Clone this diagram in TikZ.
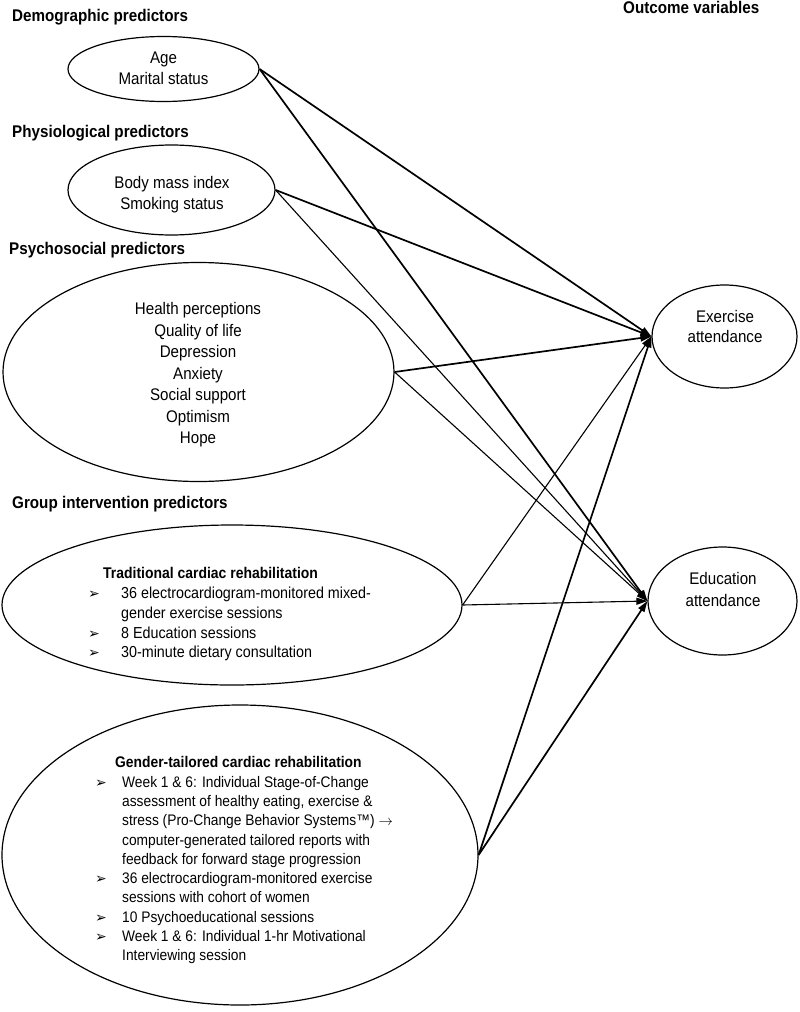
\documentclass[tikz,border=0pt]{standalone}
\usepackage{fontspec}
\setmainfont{Liberation Sans}[FakeStretch=0.9]
\newfontfamily\symfont{DejaVu Sans}
\usetikzlibrary{shapes.geometric,arrows.meta}
\newcommand\bul[1]{\makebox[#1][l]{\symfont\fontsize{14}{14}\selectfont ➢}}
\begin{document}
\begin{tikzpicture}[x=1pt,y=-1pt,
  oval/.style={draw, ellipse, line width=1.2pt, inner sep=0pt},
  head/.style={anchor=base west, inner sep=0pt, font=\bfseries\fontsize{16.9}{20}\selectfont},
  txt/.style={align=center, inner sep=0pt, font=\fontsize{16.8}{21}\selectfont},
  lst/.style={align=left, anchor=north west, inner sep=0pt},
  thk/.style={line width=1.7pt, -{Triangle[length=11pt,width=7pt]}},
  thn/.style={line width=1.1pt, -{Triangle[length=11pt,width=7pt]}}]
\useasboundingbox (0,0) rectangle (800,1012);
\fill[white] (0,0) rectangle (800,1012);

% headings
\node[head] (hdemo) at (12,21) {Demographic predictors};
\node[head] (hphys) at (12,137) {Physiological predictors};
\node[head] (hpsych) at (9,254) {Psychosocial predictors};
\node[head] (hgroup) at (12,508) {Group intervention predictors};
\node[head] (hout) at (623,13) {Outcome variables};

% ellipses
\node[oval, minimum width=191pt, minimum height=65pt] (demo) at (163.5,69) {};
\node[oval, minimum width=207pt, minimum height=90pt] (phys) at (171.5,190) {};
\node[oval, minimum width=391pt, minimum height=219pt] (psych) at (198.5,372) {};
\node[oval, minimum width=460pt, minimum height=160pt] (trad) at (232,605) {};
\node[oval, minimum width=476pt, minimum height=300pt] (gend) at (240,855) {};
\node[oval, minimum width=145pt, minimum height=103pt] (exer) at (724.5,336.5) {};
\node[oval, minimum width=149pt, minimum height=108pt] (educ) at (722.5,601) {};

% texts
\node[txt] (demotext) at (163.5,68) {Age\\Marital status};
\node[txt] (phystext) at (172,195) {Body mass index\\Smoking status};
\node[txt, font=\fontsize{16.8}{21.5}\selectfont] (psychtext) at (198,375)
  {Health perceptions\\Quality of life\\Depression\\Anxiety\\Social support\\Optimism\\Hope};
\node[txt, font=\fontsize{16.8}{20}\selectfont] (exertext) at (725,326) {Exercise\\attendance};
\node[txt, font=\fontsize{16.8}{22}\selectfont] (eductext) at (723,589) {Education\\attendance};

\node[lst, font=\fontsize{15.9}{19.7}\selectfont] (tradtext) at (88,567.5)
  {\hspace*{15pt}{\bfseries\fontsize{15.5}{19.7}\selectfont Traditional cardiac rehabilitation}\\
   \bul{33pt}36 electrocardiogram-monitored mixed-\\
   \hspace*{33pt}gender exercise sessions\\
   \bul{33pt}8 Education sessions\\
   \bul{33pt}30-minute dietary consultation};

\node[lst, font=\fontsize{15.3}{19.3}\selectfont] (gendtext) at (95,756.5)
  {\hspace*{20pt}{\bfseries\fontsize{15.4}{19.3}\selectfont Gender-tailored cardiac rehabilitation}\\
   \bul{27pt}Week 1 \& 6: Individual Stage-of-Change\\
   \hspace*{27pt}assessment of healthy eating, exercise \&\\
   \hspace*{27pt}stress (Pro-Change Behavior Systems™) $\rightarrow$\\
   \hspace*{27pt}computer-generated tailored reports with\\
   \hspace*{27pt}feedback for forward stage progression\\
   \bul{27pt}36 electrocardiogram-monitored exercise\\
   \hspace*{27pt}sessions with cohort of women\\
   \bul{27pt}10 Psychoeducational sessions\\
   \bul{27pt}Week 1 \& 6: Individual 1-hr Motivational\\
   \hspace*{27pt}Interviewing session};

% connectors
\draw[thk] (demo.east) -- (exer.west);
\draw[thk] (demo.east) -- (educ.west);
\draw[thk] (phys.east) -- (exer.west);
\draw[thn] (phys.east) -- (educ.west);
\draw[thk] (psych.east) -- (exer.west);
\draw[thn] (psych.east) -- (educ.west);
\draw[thn] (trad.east) -- (exer.west);
\draw[thn] (trad.east) -- (educ.west);
\draw[thk] (gend.east) -- (exer.west);
\draw[thk] (gend.east) -- (educ.west);
\end{tikzpicture}
\end{document}
